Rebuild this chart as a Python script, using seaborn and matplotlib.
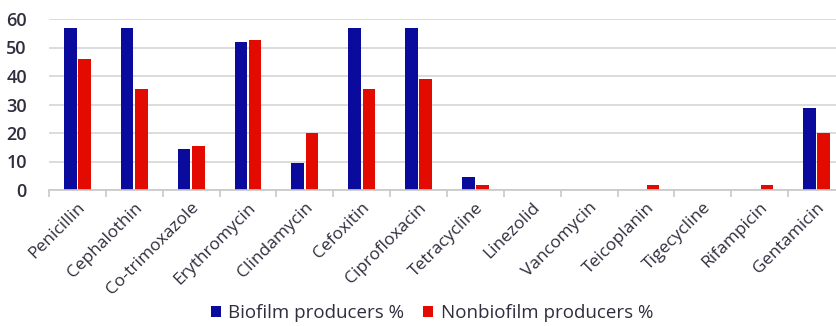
import matplotlib
matplotlib.use("Agg")
import matplotlib.pyplot as plt
import seaborn as sns
import pandas as pd

antibiotics = ["Penicillin", "Cephalothin", "Co-trimoxazole", "Erythromycin",
               "Clindamycin", "Cefoxitin", "Ciprofloxacin", "Tetracycline",
               "Linezolid", "Vancomycin", "Teicoplanin", "Tigecycline",
               "Rifampicin", "Gentamicin"]
biofilm = [57, 57, 14.3, 52.1, 9.3, 57, 57, 4.5, 0, 0, 0, 0, 0, 28.6]
nonbiofilm = [45.8, 35.6, 15.3, 52.5, 20, 35.6, 39, 1.7, 0, 0, 1.7, 0, 1.7, 20]
series_names = ["Biofilm producers %", "Nonbiofilm producers %"]
colors = ["#0a0a9c", "#e30b00"]

df = pd.DataFrame({
    "Antibiotic": antibiotics * 2,
    "Percent": biofilm + nonbiofilm,
    "Group": [series_names[0]] * len(antibiotics) + [series_names[1]] * len(antibiotics),
})

sns.set_theme(style="white")
plt.rcParams["font.family"] = ["Open Sans", "DejaVu Sans"]
text_color = "#2e2e3e"

fig = plt.figure(figsize=(8.37, 3.26), dpi=100)
ax = fig.add_axes([49 / 837, 1 - 190 / 326, (845 - 49) / 837, 171 / 326])

sns.barplot(data=df, x="Antibiotic", y="Percent", hue="Group",
            palette=colors, width=0.5, gap=0.12, saturation=1,
            linewidth=0, ax=ax)

ax.set_ylim(0, 60)
ax.set_xlim(-0.5, len(antibiotics) - 0.5)
ax.set_yticks(range(0, 61, 10))
ax.yaxis.grid(True, color="#d6d6d6", linewidth=1.2)
ax.set_axisbelow(True)
ax.set_xlabel("")
ax.set_ylabel("")

for side in ["left", "right", "top"]:
    ax.spines[side].set_visible(False)
ax.spines["bottom"].set_color("#c8c8c8")
ax.spines["bottom"].set_linewidth(1.2)

# category boundary ticks on the baseline
ax.set_xticks([i - 0.5 for i in range(len(antibiotics) + 1)], minor=True)
ax.tick_params(axis="x", which="minor", length=5, color="#c8c8c8", width=1.2,
               bottom=True)
ax.tick_params(axis="x", which="major", length=0, pad=7)
ax.set_xticks(range(len(antibiotics)))
ax.set_xticklabels(antibiotics, rotation=45, ha="right", rotation_mode="anchor",
                   fontsize=12.5, color=text_color)
ax.tick_params(axis="y", length=0, pad=16, labelsize=13, labelcolor=text_color)
for lbl in ax.get_yticklabels():
    lbl.set_fontweight("semibold")

ax.legend(loc="center", bbox_to_anchor=(432 / 837, 1 - 313 / 326),
          bbox_transform=fig.transFigure, ncol=2, frameon=False,
          fontsize=13.5, handlelength=0.55, handleheight=0.55, handletextpad=0.4,
          columnspacing=1.0, labelcolor=text_color)

fig.savefig("out.png", dpi=100)
